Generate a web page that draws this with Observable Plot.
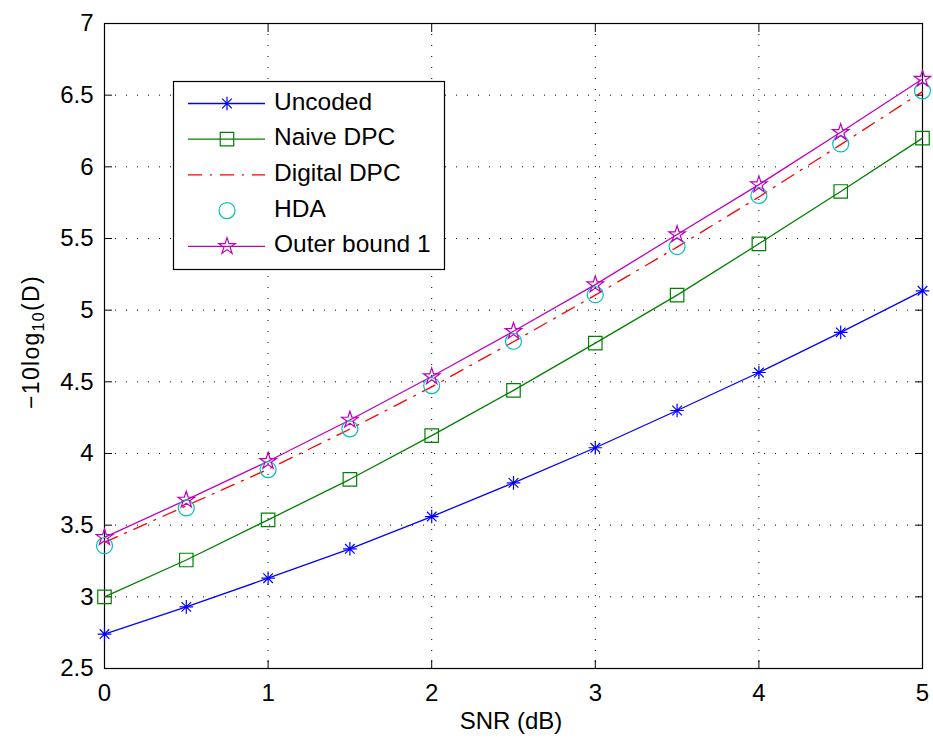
<!DOCTYPE html>
<html><head><meta charset="utf-8">
<script src="https://cdn.jsdelivr.net/npm/d3@7"></script>
<script src="https://cdn.jsdelivr.net/npm/@observablehq/plot@0.6"></script>
<style>
body{margin:0;background:#fff}
#chart svg{font-family:"Liberation Sans",Arial,sans-serif;display:block}
</style>
</head><body><div id="chart"></div>
<script>
// ---- data ----
const snr = [0,0.5,1,1.5,2,2.5,3,3.5,4,4.5,5];
const uncoded    = [2.74,2.93,3.13,3.335,3.56,3.795,4.04,4.30,4.565,4.845,5.135];
const naiveDPC   = [3.00,3.257,3.537,3.82,4.125,4.44,4.77,5.105,5.463,5.828,6.20];
const digitalDPC = [3.38,3.635,3.89,4.17,4.465,4.78,5.105,5.44,5.79,6.155,6.525];
const hda        = [3.357,3.62,3.888,4.172,4.474,4.783,5.108,5.444,5.80,6.16,6.53];
const outerBound = [3.415,3.676,3.946,4.234,4.537,4.853,5.178,5.528,5.876,6.241,6.613];
const xTicks = [0,1,2,3,4,5];
const yTicks = [2.5,3,3.5,4,4.5,5,5.5,6,6.5,7];
const seriesNames = ["Uncoded","Naive DPC","Digital DPC","HDA","Outer bound 1"];
const xLabel = "SNR (dB)";

// ---- styles ----
const asterisk = {draw(ctx, size){
  const r = Math.sqrt(size/Math.PI), d = r*Math.SQRT1_2;
  ctx.moveTo(-r,0);ctx.lineTo(r,0);ctx.moveTo(0,-r);ctx.lineTo(0,r);
  ctx.moveTo(-d,-d);ctx.lineTo(d,d);ctx.moveTo(-d,d);ctx.lineTo(d,-d);
}};
const series = [
  {name:seriesNames[0], vals:uncoded,    color:"#0000ff", line:true,  dash:null,       symbol:asterisk, r:6.8},
  {name:seriesNames[1], vals:naiveDPC,   color:"#008000", line:true,  dash:null,       symbol:d3.symbolSquare, r:7.6},
  {name:seriesNames[2], vals:digitalDPC, color:"#ff0000", line:true,  dash:"14,8,2,8", symbol:null, r:0},
  {name:seriesNames[3], vals:hda,        color:"#00bfbf", line:false, dash:null,       symbol:d3.symbolCircle, r:8},
  {name:seriesNames[4], vals:outerBound, color:"#bf00bf", line:true,  dash:null,       symbol:d3.symbolStar, r:5.2}
];
const rows = s => snr.map((x,i)=>({x, y:s.vals[i]}));

const marks = [
  Plot.gridX(xTicks, {stroke:"#000", strokeOpacity:1, strokeWidth:1, strokeDasharray:"1,10"}),
  Plot.gridY(yTicks, {stroke:"#000", strokeOpacity:1, strokeWidth:1, strokeDasharray:"1,10"}),
  Plot.frame({stroke:"#000", strokeWidth:1.2}),
  Plot.axisX(xTicks, {anchor:"bottom", tickSize:0, tickPadding:15, tickFormat:d=>String(d), label:null}),
  Plot.axisX(xTicks, {anchor:"bottom", tickSize:-8, tickFormat:()=>"", label:null}),
  Plot.axisX(xTicks, {anchor:"top", tickSize:-8, tickFormat:()=>"", label:null}),
  Plot.axisY(yTicks, {anchor:"left", tickSize:0, tickPadding:11, tickFormat:d=>String(d), label:null}),
  Plot.axisY(yTicks, {anchor:"left", tickSize:-8, tickFormat:()=>"", label:null}),
  Plot.axisY(yTicks, {anchor:"right", tickSize:-8, tickFormat:()=>"", label:null})
];
for (const s of series) {
  if (s.line) marks.push(Plot.line(rows(s), {x:"x", y:"y", stroke:s.color, strokeWidth:1.3, strokeDasharray:s.dash}));
}
for (const s of series) {
  if (s.symbol) marks.push(Plot.dot(rows(s), {x:"x", y:"y", stroke:s.color, fill:"none", strokeWidth:1.2, r:s.r, symbol:s.symbol}));
}

const plot = Plot.plot({
  width:933, height:740,
  marginTop:23, marginBottom:72, marginLeft:104, marginRight:11,
  style:{fontFamily:'"Liberation Sans",Arial,sans-serif', fontSize:"23px", background:"#fff", color:"#000", overflow:"visible"},
  x:{domain:[0,5]},
  y:{domain:[2.5,7]},
  marks
});
document.getElementById("chart").append(plot);

const svg = d3.select(plot);
// enforce tick label font size
svg.selectAll("g[aria-label$='tick label']").style("font-size","24px").selectAll("text").style("font-size","24px");

// ---- x label ----
svg.append("text").attr("x",511).attr("y",729).attr("text-anchor","middle")
  .style("font-size","24px").attr("fill","#000").text(xLabel);
// ---- y label with subscript ----
const yl = svg.append("text")
  .attr("transform","translate(39,342) rotate(-90)")
  .attr("text-anchor","middle").style("font-size","23px").style("letter-spacing","1.3px").attr("fill","#000");
yl.append("tspan").text("\u221210log");
yl.append("tspan").style("font-size","16px").attr("dy",5).text("10");
yl.append("tspan").attr("dy",-5).text("(D)");

// ---- legend ----
const lg = svg.append("g").attr("text-anchor","start");
lg.append("rect").attr("x",173.5).attr("y",81.5).attr("width",271).attr("height",188)
  .attr("fill","#fff").attr("stroke","#000").attr("stroke-width",1.2);
series.forEach((s,i)=>{
  const y = 103.5 + i*35.7;
  if (s.line) lg.append("line").attr("x1",188).attr("x2",265).attr("y1",y).attr("y2",y)
    .attr("stroke",s.color).attr("stroke-width",1.3).attr("stroke-dasharray",s.dash);
  if (s.symbol) lg.append("path").attr("transform",`translate(227,${y})`)
    .attr("d", d3.symbol(s.symbol, Math.PI*s.r*s.r)())
    .attr("fill","none").attr("stroke",s.color).attr("stroke-width",1.2);
  lg.append("text").attr("x",274).attr("y",y+6).attr("text-anchor","start")
    .style("font-size","24.5px").attr("fill","#000").text(s.name);
});
</script>
</body></html>
